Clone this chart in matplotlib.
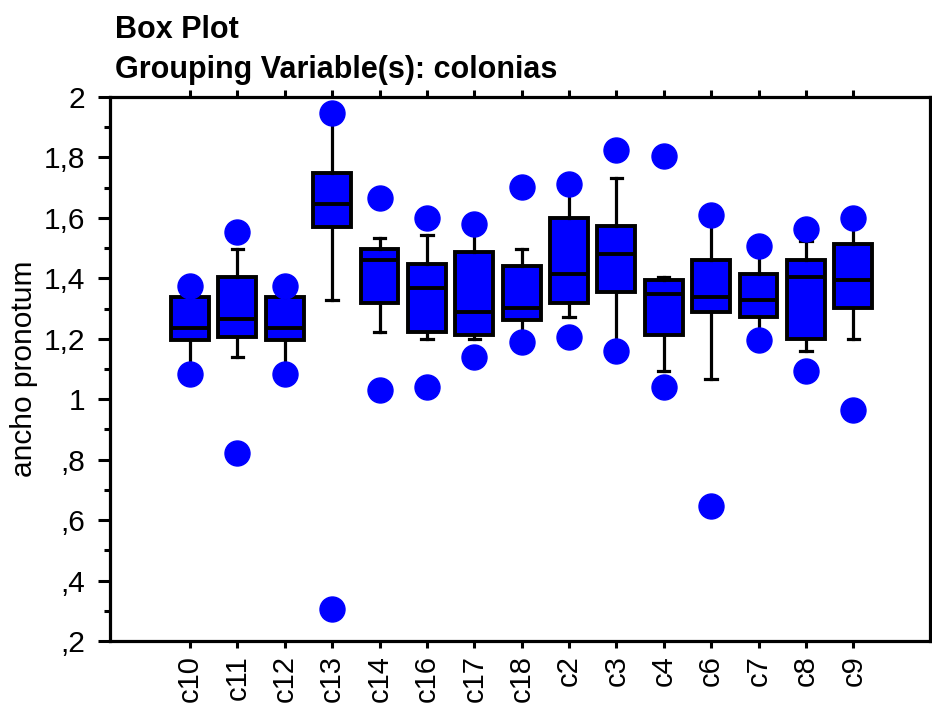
import matplotlib
matplotlib.use("Agg")
import matplotlib.pyplot as plt
from matplotlib.ticker import FixedLocator

plt.rcParams['font.family'] = ['Liberation Sans', 'DejaVu Sans']

categories = ['c10', 'c11', 'c12', 'c13', 'c14', 'c16', 'c17', 'c18',
              'c2', 'c3', 'c4', 'c6', 'c7', 'c8', 'c9']
q1 = [1.197, 1.205, 1.197, 1.571, 1.318, 1.224, 1.213, 1.262,
      1.317, 1.355, 1.213, 1.289, 1.271, 1.198, 1.301]
med = [1.236, 1.264, 1.236, 1.646, 1.460, 1.367, 1.290, 1.301,
       1.413, 1.479, 1.348, 1.338, 1.329, 1.403, 1.394]
q3 = [1.338, 1.404, 1.338, 1.749, 1.498, 1.449, 1.487, 1.441,
      1.600, 1.572, 1.395, 1.461, 1.413, 1.460, 1.515]
whislo = [1.083, 1.141, 1.083, 1.329, 1.224, 1.198, 1.198, 1.188,
          1.272, 1.160, 1.095, 1.067, 1.197, 1.160, 1.198]
whishi = [1.375, 1.497, 1.375, 1.945, 1.535, 1.545, 1.581, 1.497,
          1.711, 1.731, 1.403, 1.610, 1.507, 1.522, 1.600]
outliers = [[1.375, 1.083], [1.553, 0.823], [1.375, 1.083], [1.948, 0.307],
            [1.666, 1.029], [1.600, 1.039], [1.581, 1.141], [1.703, 1.188],
            [1.711, 1.206], [1.824, 1.160], [1.806, 1.039], [1.610, 0.646],
            [1.507, 1.197], [1.5625, 1.094], [1.600, 0.963]]

ytick_vals = [0.2, 0.4, 0.6, 0.8, 1.0, 1.2, 1.4, 1.6, 1.8, 2.0]
ytick_labels = [',2', ',4', ',6', ',8', '1', '1,2', '1,4', '1,6', '1,8', '2']
yminor_vals = [0.3, 0.5, 0.7, 0.9, 1.1, 1.3, 1.5, 1.7, 1.9]

fig = plt.figure(figsize=(9.32, 7.11), dpi=100)
ax = fig.add_axes([110 / 932, 1 - 641 / 711, 820 / 932, 544 / 711])

stats = []
for i, c in enumerate(categories):
    stats.append(dict(label=c, q1=q1[i], med=med[i], q3=q3[i],
                      whislo=whislo[i], whishi=whishi[i], fliers=outliers[i]))

positions = list(range(len(categories)))
lw = 2.8
ax.bxp(stats, positions=positions, widths=0.8, capwidths=0.24,
       patch_artist=True, showfliers=True,
       boxprops=dict(facecolor='#0000ff', edgecolor='black', linewidth=lw),
       medianprops=dict(color='black', linewidth=lw),
       whiskerprops=dict(color='black', linewidth=2.3),
       capprops=dict(color='black', linewidth=2.3),
       flierprops=dict(marker='o', markerfacecolor='#0000ff',
                       markeredgecolor='#0000ff', markersize=18,
                       linestyle='none', zorder=5))

ax.set_xlim(-1.69, 15.62)
ax.set_ylim(0.2, 2.0)

ax.set_xticks(positions)
ax.set_xticklabels(categories, rotation=90, fontsize=21)
ax.yaxis.set_major_locator(FixedLocator(ytick_vals))
ax.set_yticklabels(ytick_labels, fontsize=21.5)
ax.yaxis.set_minor_locator(FixedLocator(yminor_vals))

for s in ax.spines.values():
    s.set_linewidth(2.3)

ax.tick_params(axis='y', which='major', direction='out', length=9, width=2.2,
               left=True, right=True, labelright=False, pad=9)
ax.tick_params(axis='y', which='minor', direction='out', length=4.5, width=2.2,
               left=True, right=True)
ax.tick_params(axis='x', which='major', direction='out', length=5, width=2.2,
               top=True, bottom=True, labeltop=False, pad=5)

fig.text(115 / 932, 1 - 38 / 711, 'Box Plot', fontsize=22, fontweight='bold',
         ha='left', va='baseline')
fig.text(115 / 932, 1 - 78 / 711, 'Grouping Variable(s): colonias', fontsize=22,
         fontweight='bold', ha='left', va='baseline')
fig.text(24 / 932, 1 - 369 / 711, 'ancho pronotum', fontsize=21.5, rotation=90,
         ha='center', va='center')

fig.savefig('out.png', dpi=100)
